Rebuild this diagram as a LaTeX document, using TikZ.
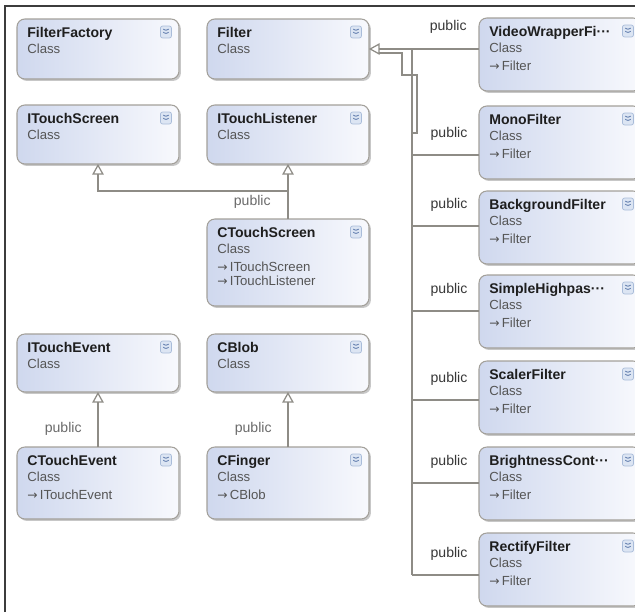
\documentclass[tikz,border=0pt]{standalone}
\usepackage{fontspec}
\setmainfont{Liberation Sans}
\newfontfamily\symfont{DejaVu Sans}
\usetikzlibrary{arrows.meta,positioning,shadows}
\definecolor{frame}{HTML}{3C3C3C}
\definecolor{edge}{HTML}{A3A09A}
\definecolor{clsblue}{HTML}{CFD8EE}
\definecolor{clslight}{HTML}{F8F9FD}
\definecolor{ink}{HTML}{1E1E1E}
\definecolor{meta}{HTML}{555555}
\definecolor{wire}{HTML}{8E8C86}
\definecolor{btnfill}{HTML}{DCE5F3}
\definecolor{btnedge}{HTML}{A9BCD9}
\definecolor{btnmark}{HTML}{5875A8}

% inheritance mark in front of a base class
\newcommand\inh{{\symfont\fontsize{7}{8}\selectfont →}\,}
% box, name, "Class" lines and expand button of one class
\newcommand\umlclass[5]{%
 \node[classbox,minimum height=#3*0.02cm] (#1) at #2 {};
 \node[clsname] (#1-name) at ([shift={(10,18)}]#1.north west) {#4};
 \node[clsinfo] (#1-info) at ([shift={(10,25)}]#1.north west) {Class#5};
 \node[expander] (#1-btn) at ([shift={(-13,13)}]#1.north east) {};}

\begin{document}
\begin{tikzpicture}[x=0.02cm,y=-0.02cm,
 classbox/.style={draw=edge,line width=.6pt,rounded corners=4.5pt,left color=clsblue,right color=clslight,anchor=north west,minimum width=3.24cm,inner sep=0,outer sep=0,drop shadow={shadow xshift=1.1pt,shadow yshift=-1.1pt,fill=black,opacity=.22}},
 clsname/.style={anchor=base west,inner sep=0,font=\bfseries\fontsize{8}{9.6}\selectfont,text=ink},
 clsinfo/.style={anchor=north west,inner sep=0,align=left,font=\fontsize{7.5}{8}\selectfont,text=meta},
 expander/.style={draw=btnedge,fill=btnfill,line width=.4pt,rounded corners=1.2pt,minimum width=0.22cm,minimum height=0.24cm,inner sep=0,
  path picture={\draw[btnmark,line width=.45pt] ([shift={(-1.5pt,1.7pt)}]path picture bounding box.center) -- ++(1.5pt,-1.1pt) -- ++(1.5pt,1.1pt)
   ([shift={(-1.5pt,-.1pt)}]path picture bounding box.center) -- ++(1.5pt,-1.1pt) -- ++(1.5pt,1.1pt);}},
 link/.style={wire,line width=.7pt},
 gen/.style={link,-{Triangle[open,length=6pt,width=6.5pt,fill=white]}},
 pub/.style={inner sep=0,font=\fontsize{8}{9}\selectfont,text=black!78},
 publ/.style={pub,text=black!58}]
 \useasboundingbox (0,0) rectangle (635,612);
 \clip (0,0) rectangle (635,612);
 \fill[white] (0,0) rectangle (635,612);
 \draw[frame,line width=.9pt] (5,612) -- (5,6) -- (635,6);
 % left part
 \umlclass{ff}{(17,19)}{60}{FilterFactory}{}
 \umlclass{filt}{(207,19)}{60}{Filter}{}
 \umlclass{its}{(17,105)}{59}{ITouchScreen}{}
 \umlclass{itl}{(207,105)}{59}{ITouchListener}{}
 \umlclass{cts}{(207,219)}{87}{CTouchScreen}{\\[2.2pt]\inh ITouchScreen\\\inh ITouchListener}
 \umlclass{ite}{(17,334)}{58}{ITouchEvent}{}
 \umlclass{cblob}{(207,334)}{58}{CBlob}{}
 \umlclass{cte}{(17,447)}{72}{CTouchEvent}{\\[2.2pt]\inh ITouchEvent}
 \umlclass{cfg}{(207,447)}{72}{CFinger}{\\[2.2pt]\inh CBlob}
 % filters
 \umlclass{vwf}{(479,18)}{73}{VideoWrapperFi···}{\\[2.2pt]\inh Filter}
 \umlclass{mf}{(479,106)}{73}{MonoFilter}{\\[2.2pt]\inh Filter}
 \umlclass{bgf}{(479,191)}{73}{BackgroundFilter}{\\[2.2pt]\inh Filter}
 \umlclass{shp}{(479,275)}{73}{SimpleHighpas···}{\\[2.2pt]\inh Filter}
 \umlclass{sf}{(479,361)}{73}{ScalerFilter}{\\[2.2pt]\inh Filter}
 \umlclass{bcf}{(479,447)}{73}{BrightnessCont···}{\\[2.2pt]\inh Filter}
 \umlclass{rf}{(479,533)}{73}{RectifyFilter}{\\[2.2pt]\inh Filter}

 \coordinate (tsj) at ([shift={(0,-28)}]cts.north);
 \draw[gen] (cts.north) -- (itl.south); \draw[gen] (tsj) -| (its.south);
 \node[publ,anchor=north east] (cts-pub) at ([shift={(-17,4)}]tsj) {public};
 \draw[gen] (cte.north) -- (ite.south) node[publ,pos=.33,left=9pt] (cte-pub) {public};
 \draw[gen] (cfg.north) -- (cblob.south) node[publ,pos=.33,left=9pt] (cfg-pub) {public};

 \coordinate (vwf-in) at ([shift={(0,31)}]vwf.north west); \coordinate (mf-in) at ([shift={(0,49)}]mf.north west);
 \coordinate (bgf-in) at ([shift={(0,35)}]bgf.north west); \coordinate (shp-in) at ([shift={(0,36)}]shp.north west);
 \coordinate (sf-in) at ([shift={(0,39)}]sf.north west); \coordinate (bcf-in) at ([shift={(0,36)}]bcf.north west);
 \coordinate (rf-in) at ([shift={(0,42)}]rf.north west);
 \coordinate (trunk) at (412,49);
 \draw[link] (trunk) -- (trunk |- rf-in);
 \draw[link] ([shift={(10,4)}]filt.east) -| ++(23,22) -| ++(15,58) -- ++(-6,0);
 \draw[gen] (vwf-in) -- (filt.east) node[pub,pos=.28,above=8.5pt] (vwf-pub) {public};
 \draw[link] (mf-in) -- (mf-in -| trunk) node[pub,midway,above=8pt,xshift=2pt] (mf-pub) {public};
 \draw[link] (bgf-in) -- (bgf-in -| trunk) node[pub,midway,above=8pt,xshift=2pt] (bgf-pub) {public};
 \draw[link] (shp-in) -- (shp-in -| trunk) node[pub,midway,above=8pt,xshift=2pt] (shp-pub) {public};
 \draw[link] (sf-in) -- (sf-in -| trunk) node[pub,midway,above=8pt,xshift=2pt] (sf-pub) {public};
 \draw[link] (bcf-in) -- (bcf-in -| trunk) node[pub,midway,above=8pt,xshift=2pt] (bcf-pub) {public};
 \draw[link] (rf-in) -- (rf-in -| trunk) node[pub,midway,above=8pt,xshift=2pt] (rf-pub) {public};
\end{tikzpicture}
\end{document}
